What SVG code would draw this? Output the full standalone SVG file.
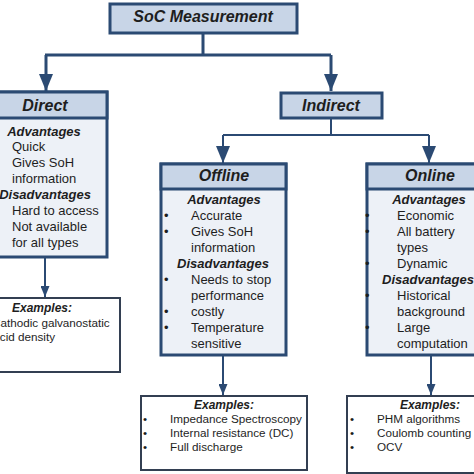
<svg xmlns="http://www.w3.org/2000/svg" width="474" height="474" viewBox="0 0 474 474">
<defs>
<style>
.box{fill:#edf1f7;stroke:#2b4a73;stroke-width:3}
.hdr{fill:#c8d5e7;stroke:#2b4a73;stroke-width:3}
.ex{fill:#ffffff;stroke:#333f52;stroke-width:2}
.c{fill:none;stroke:#2b4a73}
.big{stroke-width:3}
.small{stroke-width:2}
text{font-family:"Liberation Sans",Arial,sans-serif;fill:#1e1e1e}
.t{font-size:16px;font-weight:bold;font-style:italic;text-anchor:middle}
.h{font-size:13px;font-weight:bold;font-style:italic;text-anchor:middle}
.b{font-size:13px}
.eh{font-size:12px;font-weight:bold;font-style:italic;text-anchor:middle}
.e{font-size:11.7px}
</style>
<marker id="ab" viewBox="0 0 17 14" refX="17" refY="7" markerWidth="17" markerHeight="14" markerUnits="userSpaceOnUse" orient="auto"><path d="M0,0 L17,7 L0,14 z" fill="#2b4a73"/></marker>
<marker id="as" viewBox="0 0 11 9" refX="11" refY="4.5" markerWidth="11" markerHeight="9" markerUnits="userSpaceOnUse" orient="auto"><path d="M0,0 L11,4.5 L0,9 z" fill="#2b4a73"/></marker>
</defs>
<rect width="474" height="474" fill="#ffffff"/>
<g id="connectors">
<path class="c big" d="M203,33 V55 M45,55 H331"/>
<line class="c big" x1="46" y1="55" x2="46" y2="91" marker-end="url(#ab)"/>
<line class="c big" x1="331" y1="55" x2="331" y2="91" marker-end="url(#ab)"/>
<path class="c small" d="M331,118 V135 M223,135 H429"/>
<line class="c small" x1="223" y1="135" x2="223" y2="163" marker-end="url(#ab)"/>
<line class="c small" x1="429" y1="135" x2="429" y2="163" marker-end="url(#ab)"/>
<line class="c small" x1="45" y1="257" x2="45" y2="297" marker-end="url(#as)"/>
<line class="c small" x1="223" y1="355" x2="223" y2="395" marker-end="url(#as)"/>
<line class="c small" x1="431" y1="355" x2="431" y2="395" marker-end="url(#as)"/>
</g>
<g id="soc">
<rect class="hdr" x="110" y="4" width="187" height="29"/>
<text class="t" x="203" y="22">SoC Measurement</text>
</g>
<g id="direct">
<rect class="box" x="-3" y="92" width="110" height="165"/>
<rect class="hdr" x="-3" y="92" width="110" height="26"/>
<text class="t" x="45" y="111">Direct</text>
<text class="h" x="44" y="136">Advantages</text>
<text class="b" x="12" y="151">Quick</text>
<text class="b" x="12" y="167">Gives SoH</text>
<text class="b" x="12" y="183">information</text>
<text class="h" x="45" y="199">Disadvantages</text>
<text class="b" x="12" y="215">Hard to access</text>
<text class="b" x="12" y="231">Not available</text>
<text class="b" x="12" y="247">for all types</text>
</g>
<g id="indirect">
<rect class="hdr" x="281" y="93" width="101" height="25"/>
<text class="t" x="331" y="111">Indirect</text>
</g>
<g id="offline">
<rect class="box" x="161" y="164" width="125" height="191"/>
<rect class="hdr" x="161" y="164" width="125" height="25"/>
<text class="t" x="224" y="181">Offline</text>
<text class="h" x="224" y="204">Advantages</text>
<text class="b" x="164" y="220">•</text><text class="b" x="191" y="220">Accurate</text>
<text class="b" x="164" y="236">•</text><text class="b" x="191" y="236">Gives SoH</text>
<text class="b" x="191" y="252">information</text>
<text class="h" x="223" y="268">Disadvantages</text>
<text class="b" x="164" y="284">•</text><text class="b" x="191" y="284">Needs to stop</text>
<text class="b" x="191" y="300">performance</text>
<text class="b" x="164" y="316">•</text><text class="b" x="191" y="316">costly</text>
<text class="b" x="164" y="332">•</text><text class="b" x="191" y="332">Temperature</text>
<text class="b" x="191" y="348">sensitive</text>
</g>
<g id="online">
<rect class="box" x="367" y="164" width="112" height="191"/>
<rect class="hdr" x="367" y="164" width="112" height="25"/>
<text class="t" x="430" y="181">Online</text>
<text class="h" x="429" y="204">Advantages</text>
<text class="b" x="365" y="220">•</text><text class="b" x="397" y="220">Economic</text>
<text class="b" x="365" y="236">•</text><text class="b" x="397" y="236">All battery</text>
<text class="b" x="397" y="252">types</text>
<text class="b" x="365" y="268">•</text><text class="b" x="397" y="268">Dynamic</text>
<text class="h" x="428" y="284">Disadvantages</text>
<text class="b" x="365" y="300">•</text><text class="b" x="397" y="300">Historical</text>
<text class="b" x="397" y="316">background</text>
<text class="b" x="365" y="332">•</text><text class="b" x="397" y="332">Large</text>
<text class="b" x="397" y="348">computation</text>
</g>
<g id="ex-direct">
<rect class="ex" x="-3" y="298" width="123" height="74"/>
<text class="eh" x="42" y="312">Examples:</text>
<text class="e" x="-8" y="327">Cathodic galvanostatic</text>
<text class="e" x="-8" y="341">Acid density</text>
</g>
<g id="ex-offline">
<rect class="ex" x="141" y="396" width="166" height="74"/>
<text class="eh" x="224" y="409">Examples:</text>
<text class="e" x="143" y="423">•</text><text class="e" x="170" y="423">Impedance Spectroscopy</text>
<text class="e" x="143" y="437">•</text><text class="e" x="170" y="437">Internal resistance (DC)</text>
<text class="e" x="143" y="451">•</text><text class="e" x="170" y="451">Full discharge</text>
</g>
<g id="ex-online">
<rect class="ex" x="347" y="396" width="132" height="77"/>
<text class="eh" x="430" y="409">Examples:</text>
<text class="e" x="350" y="423">•</text><text class="e" x="377" y="423">PHM algorithms</text>
<text class="e" x="350" y="437">•</text><text class="e" x="377" y="437">Coulomb counting</text>
<text class="e" x="350" y="451">•</text><text class="e" x="377" y="451">OCV</text>
</g>
</svg>
